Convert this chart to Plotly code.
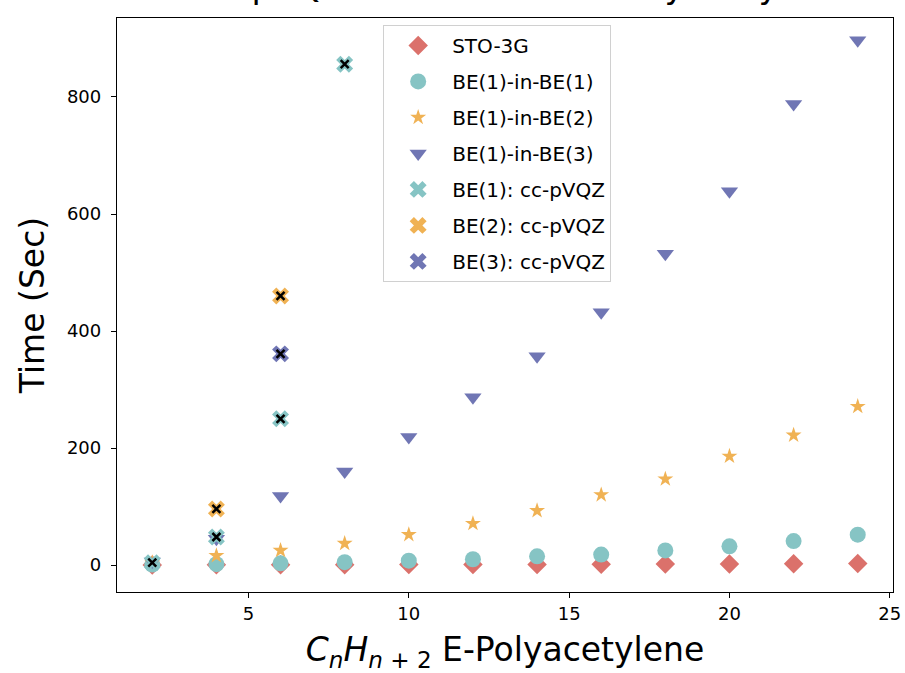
import plotly.graph_objects as go

# ---- data ----
n_atoms = [2, 4, 6, 8, 10, 12, 14, 16, 18, 20, 22, 24]
sto3g = [0.3, 0.4, 0.5, 0.6, 0.8, 1.0, 1.2, 1.4, 1.7, 2.0, 2.4, 2.8]
be1_in_be1 = [1, 1.5, 3, 5, 7.5, 10, 15, 18, 25, 32, 41, 52]
be1_in_be2 = [4, 16, 25, 37, 52, 71, 93, 120, 147, 186, 222, 271]
be1_in_be3 = [6, 45, 118, 160, 219, 287, 357, 432, 532, 639, 788, 897]

be1_vqz_x = [2, 4, 6, 8]
be1_vqz_y = [4, 48, 250, 856]
be2_vqz_x = [4, 6]
be2_vqz_y = [96, 460]
be3_vqz_x = [6]
be3_vqz_y = [361]

x_ticks = [5, 10, 15, 20, 25]
y_ticks = [0, 200, 400, 600, 800]

RED = "rgb(219,113,107)"
TEAL = "rgb(134,196,196)"
ORANGE = "rgb(240,178,84)"
PURPLE = "rgb(112,118,180)"

FONT = "DejaVu Sans"

fig = go.Figure()

def add(x, y, name, symbol, color, size, group):
    fig.add_trace(go.Scatter(
        x=x, y=y, mode="markers", name=name, legendgroup=group,
        marker=dict(symbol=symbol, color=color, size=size, line=dict(width=0)),
    ))

add(n_atoms, sto3g, "STO-3G", "diamond", RED, 15, "g1")
add(n_atoms, be1_in_be1, "BE(1)-in-BE(1)", "circle", TEAL, 16, "g2")
add(n_atoms, be1_in_be2, "BE(1)-in-BE(2)", "star", ORANGE, 12, "g3")
add(n_atoms, be1_in_be3, "BE(1)-in-BE(3)", "triangle-down", PURPLE, 15, "g4")

for x, y, name, color, g in [
    (be1_vqz_x, be1_vqz_y, "BE(1): cc-pVQZ", TEAL, "g5"),
    (be2_vqz_x, be2_vqz_y, "BE(2): cc-pVQZ", ORANGE, "g6"),
    (be3_vqz_x, be3_vqz_y, "BE(3): cc-pVQZ", PURPLE, "g7"),
]:
    add(x, y, name, "x", color, 15, g)
    fig.add_trace(go.Scatter(
        x=x, y=y, mode="markers", showlegend=False, legendgroup=g, hoverinfo="skip",
        marker=dict(symbol="x-thin", size=8, line=dict(color="black", width=2.5)),
    ))

axis_common = dict(
    showline=True, linecolor="black", linewidth=1.3, mirror=True,
    ticks="outside", ticklen=5, tickwidth=1.2, tickcolor="black",
    showgrid=False, zeroline=False, automargin=False,
    tickfont=dict(family=FONT, size=18, color="black"),
)

fig.update_layout(
    width=905, height=673,
    margin=dict(l=117, r=12, t=18, b=81),
    plot_bgcolor="white", paper_bgcolor="white",
    font=dict(family=FONT, color="black"),
    xaxis=dict(range=[0.9, 25.1], tickvals=x_ticks, **axis_common,
               title=dict(text="<i>C</i><sub><i>n</i></sub><i>H</i><sub><i>n</i> + 2</sub> E-Polyacetylene",
                          font=dict(family=FONT, size=33), standoff=17)),
    yaxis=dict(range=[-46, 935], tickvals=y_ticks, **axis_common, ticklabelstandoff=6,
               title=dict(text="Time (Sec)", font=dict(family=FONT, size=33), standoff=12)),
    legend=dict(
        x=0.343, y=0.988, xanchor="left", yanchor="top",
        bgcolor="white", bordercolor="#d0d0d0", borderwidth=1,
        font=dict(family=FONT, size=20), tracegroupgap=7,
        itemwidth=58,
    ),
    showlegend=True,
)

fig.add_annotation(
    xref="paper", yref="paper", x=0.5, y=1.0, yshift=10,
    xanchor="center", yanchor="bottom", showarrow=False,
    text="in cc-pVQZ Basis Set for E-Polyacetylene",
    font=dict(family=FONT, size=34, color="black"),
)

fig.write_html("out.html")
